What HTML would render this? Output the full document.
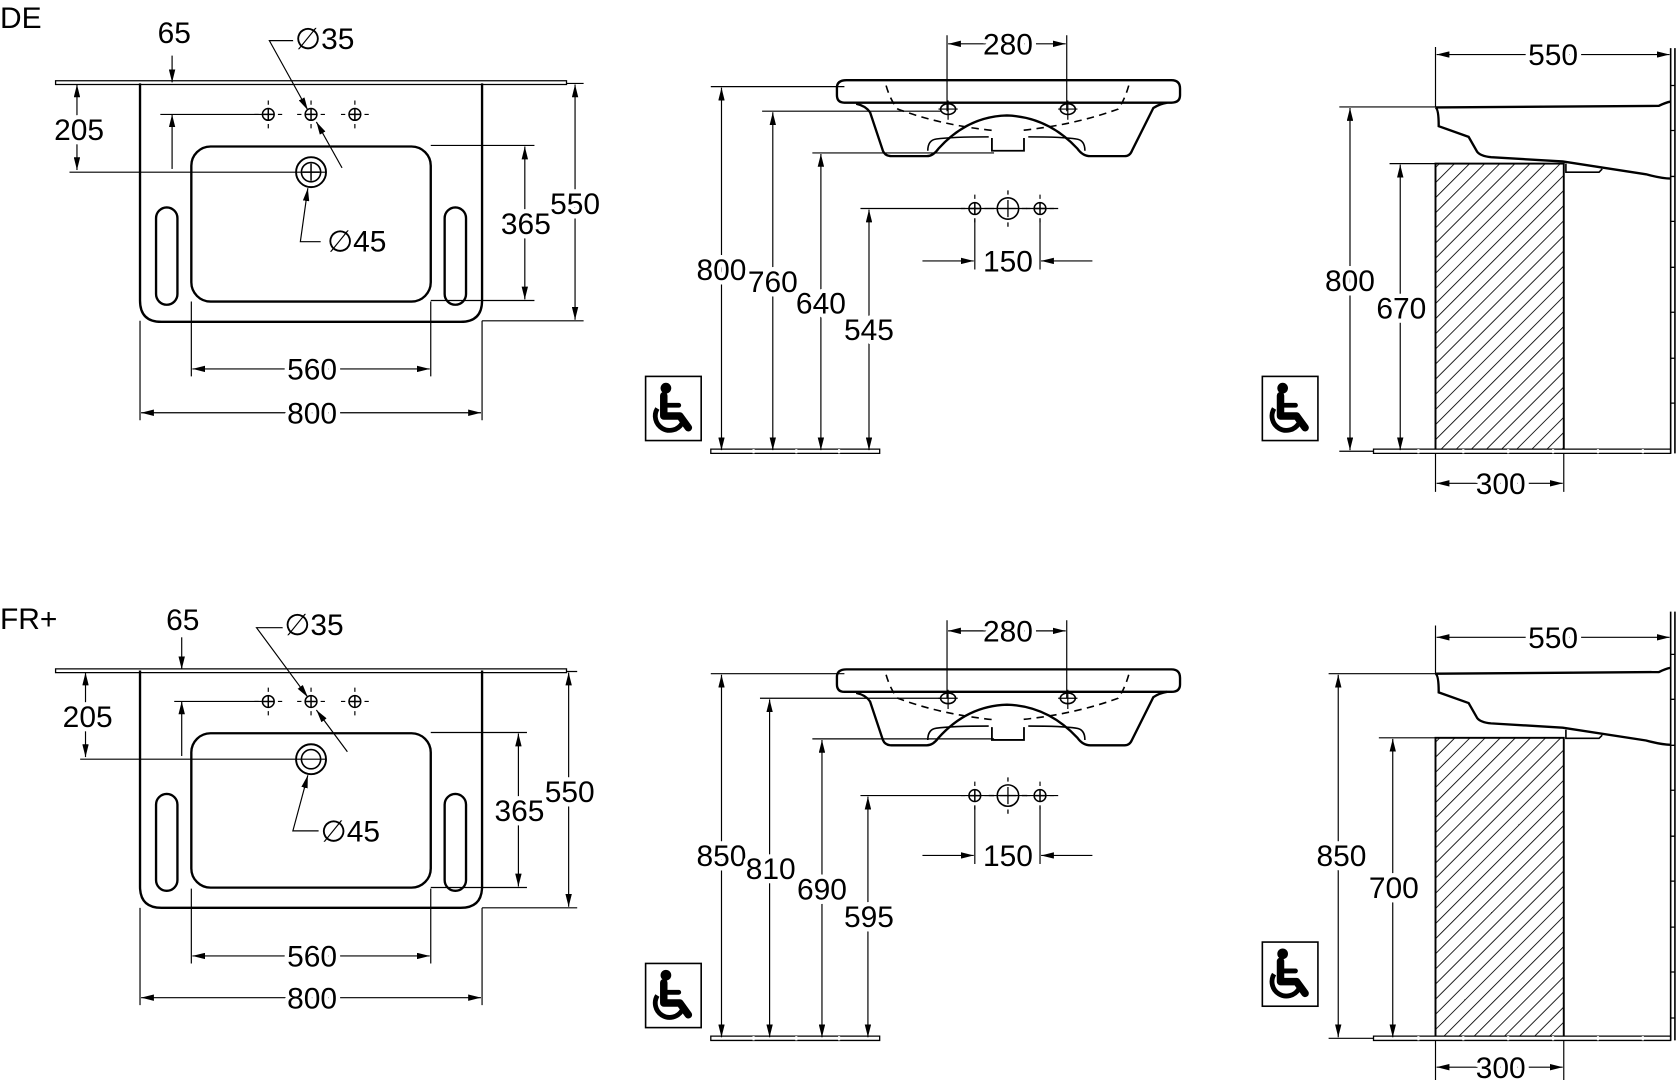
<!DOCTYPE html>
<html><head><meta charset="utf-8"><style>
html,body{margin:0;padding:0;background:#fff;width:1676px;height:1080px;overflow:hidden}
svg{display:block}
text{font-family:"Liberation Sans","DejaVu Sans",sans-serif;font-size:28px;fill:#000;paint-order:stroke;stroke:#fff;stroke-width:8px;stroke-linejoin:round}
</style></head><body>
<svg width="1676" height="1080" viewBox="0 0 1568 1010" preserveAspectRatio="none" xmlns="http://www.w3.org/2000/svg">
<defs>
<marker id="a" viewBox="0 0 12 6" refX="12" refY="3" markerWidth="12" markerHeight="6" markerUnits="userSpaceOnUse" orient="auto-start-reverse"><path d="M0,0L12,3L0,6z" fill="#000"/></marker>
<pattern id="h" width="10" height="10" patternUnits="userSpaceOnUse" patternTransform="rotate(45)"><line x1="0" y1="0" x2="0" y2="10" stroke="#000" stroke-width="1.6"/></pattern>
<g id="wc">
<rect x="0" y="0" width="52" height="60" fill="#fff" stroke="#000" stroke-width="1.5"/>
<circle cx="19" cy="11" r="5" fill="#000"/>
<path d="M17,18 L17,37 L32,37 L40,48" fill="none" stroke="#000" stroke-width="7" stroke-linecap="round" stroke-linejoin="round"/>
<path d="M19,27 L31,27" stroke="#000" stroke-width="4.5" stroke-linecap="round"/>
<path d="M11,30 A13,13 0 1 0 34,44" fill="none" stroke="#000" stroke-width="4.5"/>
</g>
<g id="top" fill="none" stroke="#000">
<path d="M131,0 V203 Q131,223 151,223 H431 Q451,223 451,203 V0" stroke-width="2.2"/>
<rect x="179" y="59" width="224" height="145" rx="18" stroke-width="2.2"/>
<rect x="146" y="116" width="20" height="91" rx="10" stroke-width="2.2"/>
<rect x="416" y="116" width="20" height="91" rx="10" stroke-width="2.2"/>
</g>
<g id="hole" fill="none" stroke="#000" stroke-width="1.4">
<circle r="5.5"/><path d="M-5.5,0H5.5M0,-5.5V5.5"/>
<path d="M-13,0h4M9,0h4M0,-13v4M0,9v4" stroke-width="1.1"/>
</g>
<g id="side" fill="none" stroke="#000" stroke-width="2.2">
<path d="M792,626 H1096 Q1104,626 1104,634 V640 Q1104,647 1096,647 H790 Q783,647 783,640 V633 Q783,626 792,626 Z"/>
<path d="M801,648 Q810,650 814,656 L826,692 Q828,697 834,697 H867 Q873,697 878,690 Q905,660 942,659 Q980,660 1008,690 Q1013,697 1020,697 H1052 Q1057,697 1059,692 L1079,652 Q1085,648 1092,647"/>
<path d="M868,692 Q868,682 876,681 Q890,679 925,679 M1015,692 Q1015,682 1007,681 Q995,679 962,679" stroke-width="1.5"/>
<path d="M928,680 V692 H958 V680" stroke-width="1.7"/>
<path d="M829,631 Q833,645 840,653 Q880,668 929,673 M1056,631 Q1052,645 1046,653 Q1005,668 955,673" stroke-dasharray="7,5" stroke-width="1.5"/>
<ellipse cx="887" cy="653" rx="7" ry="5" stroke-width="1.5"/><path d="M878,653h18M887,645v18" stroke-width="1.1"/>
<ellipse cx="999" cy="653" rx="7" ry="5" stroke-width="1.5"/><path d="M990,653h18M999,645v18" stroke-width="1.1"/>
</g>
<g id="prof" fill="none" stroke="#000" stroke-width="2.2">
<path d="M1343,100.5 Q1346,102 1346,118 L1374,128 L1382,142 Q1385,146 1395,147 L1462,151 L1540,163 Q1555,167 1563,167"/>
<path d="M1343,100.5 L1552,99 Q1558,96 1563,95"/>
<path d="M1465,153 V161 H1496 L1499,158" stroke-width="1.5"/>
</g>
</defs>

<!-- TOP ROW -->
<text x="0" y="26" style="font-size:28px">DE</text>
<path d="M52,75.5h478v3.5h-478z" fill="#fff" stroke="#000" stroke-width="1.2"/>
<use href="#top" transform="translate(0,78)"/>
<use href="#hole" x="251" y="107"/><use href="#hole" x="291" y="107"/><use href="#hole" x="332" y="107"/>
<circle cx="291" cy="161" r="14" fill="none" stroke="#000" stroke-width="1.8"/>
<circle cx="291" cy="161" r="9" fill="none" stroke="#000" stroke-width="1.5"/>
<path d="M283,161h16M291,153v16" stroke="#000" stroke-width="1.4"/>
<g stroke="#000" stroke-width="1.1" fill="none">
<path d="M150,107H245M65,161H305M403,136H500M403,281H500M451,300H546M179,282V352M403,282V352M131,300V393M451,300V393M530,78H546"/>
<path d="M161,52V77" marker-end="url(#a)"/><path d="M161,158V107" marker-end="url(#a)"/>
<path d="M72,79V159" marker-start="url(#a)" marker-end="url(#a)"/>
<path d="M491,137V280" marker-start="url(#a)" marker-end="url(#a)"/>
<path d="M538,79V299" marker-start="url(#a)" marker-end="url(#a)"/>
<path d="M180,345H402" marker-start="url(#a)" marker-end="url(#a)"/>
<path d="M132,386H450" marker-start="url(#a)" marker-end="url(#a)"/>
<path d="M276,38H252L288,103" marker-end="url(#a)"/><path d="M320,157L296,114" marker-end="url(#a)"/>
<path d="M300,226H281L288,176" marker-end="url(#a)"/>
</g>
<text x="163" y="40" text-anchor="middle">65</text>
<text x="74" y="131" text-anchor="middle">205</text>
<text x="492" y="219" text-anchor="middle">365</text>
<text x="538" y="200" text-anchor="middle">550</text>
<text x="292" y="355" text-anchor="middle">560</text>
<text x="292" y="396" text-anchor="middle">800</text>
<text x="276" y="46">∅35</text>
<text x="306" y="235">∅45</text>
<use href="#side" transform="translate(0,-551)"/>
<path d="M665,420h158v4h-158z" fill="#fff" stroke="#000" stroke-width="1.2"/>
<path d="M705,420v4M745,420v4M785,420v4" stroke="#fff" stroke-width="2"/>
<use href="#hole" x="912" y="195"/><use href="#hole" x="973" y="195"/>
<circle cx="943" cy="195" r="10" fill="none" stroke="#000" stroke-width="1.5"/><path d="M935,195h16M943,187v16M925,195h5M956,195h5M943,178v4M943,208v4" stroke="#000" stroke-width="1.2"/>
<g stroke="#000" stroke-width="1.1" fill="none">
<path d="M665,81H790M713,104H880M760,143H930M805,195H990M886,33V104M998,33V104M912,205V252M973,205V252"/>
<path d="M675,82V421" marker-start="url(#a)" marker-end="url(#a)"/>
<path d="M723,105V421" marker-start="url(#a)" marker-end="url(#a)"/>
<path d="M768,144V421" marker-start="url(#a)" marker-end="url(#a)"/>
<path d="M813,196V421" marker-start="url(#a)" marker-end="url(#a)"/>
<path d="M887,41H997" marker-start="url(#a)" marker-end="url(#a)"/>
<path d="M863,244H911" marker-end="url(#a)"/><path d="M1022,244H974" marker-end="url(#a)"/>
</g>
<text x="943" y="51" text-anchor="middle">280</text>
<text x="943" y="254" text-anchor="middle">150</text>
<text x="675" y="262" text-anchor="middle">800</text>
<text x="723" y="273" text-anchor="middle">760</text>
<text x="768" y="293" text-anchor="middle">640</text>
<text x="813" y="318" text-anchor="middle">545</text>
<use href="#wc" x="604" y="352"/>
<rect x="1343" y="153" width="120" height="269" fill="url(#h)" stroke="#000" stroke-width="1.8"/>
<use href="#prof"/>
<path d="M1285,420h278v4h-278z" fill="#fff" stroke="#000" stroke-width="1.2"/>
<path d="M1327,420v4M1369,420v4M1411,420v4M1453,420v4M1495,420v4M1537,420v4" stroke="#fff" stroke-width="2"/>
<path d="M1563,45V424M1567,45V424" stroke="#000" stroke-width="1.5"/>
<path d="M1563,80h4M1563,122h4M1563,165h4M1563,207h4M1563,250h4M1563,292h4M1563,335h4M1563,377h4" stroke="#000" stroke-width="1.2"/>
<g stroke="#000" stroke-width="1.1" fill="none">
<path d="M1253,100H1343M1300,153H1343M1253,422H1285M1343,44V100M1343,424V460M1463,424V460"/>
<path d="M1344,51H1562" marker-start="url(#a)" marker-end="url(#a)"/>
<path d="M1263,101V421" marker-start="url(#a)" marker-end="url(#a)"/>
<path d="M1310,154V421" marker-start="url(#a)" marker-end="url(#a)"/>
<path d="M1344,452H1462" marker-start="url(#a)" marker-end="url(#a)"/>
</g>
<text x="1453" y="61" text-anchor="middle">550</text>
<text x="1263" y="272" text-anchor="middle">800</text>
<text x="1311" y="298" text-anchor="middle">670</text>
<text x="1404" y="462" text-anchor="middle">300</text>
<use href="#wc" x="1181" y="352"/>

<!-- BOTTOM ROW -->
<text x="0" y="588" style="font-size:28px">FR+</text>
<path d="M52,625.5h478v3.5h-478z" fill="#fff" stroke="#000" stroke-width="1.2"/>
<use href="#top" transform="translate(0,627) scale(1,0.9955)"/>
<use href="#hole" x="251" y="656"/><use href="#hole" x="291" y="656"/><use href="#hole" x="332" y="656"/>
<circle cx="291" cy="710" r="14" fill="none" stroke="#000" stroke-width="1.8"/>
<circle cx="291" cy="710" r="9" fill="none" stroke="#000" stroke-width="1.5"/>
<g stroke="#000" stroke-width="1.1" fill="none">
<path d="M163,656H245M75,710H305M403,685H493M403,830H493M451,849H540M179,831V901M403,831V901M131,849V940M451,849V940M530,628H540"/>
<path d="M170,596V626" marker-end="url(#a)"/><path d="M170,707V656" marker-end="url(#a)"/>
<path d="M80,629V708" marker-start="url(#a)" marker-end="url(#a)"/>
<path d="M485,686V829" marker-start="url(#a)" marker-end="url(#a)"/>
<path d="M532,629V848" marker-start="url(#a)" marker-end="url(#a)"/>
<path d="M180,894H402" marker-start="url(#a)" marker-end="url(#a)"/>
<path d="M132,933H450" marker-start="url(#a)" marker-end="url(#a)"/>
<path d="M265,587H240L288,652" marker-end="url(#a)"/><path d="M325,703L296,664" marker-end="url(#a)"/>
<path d="M300,777H274L288,725" marker-end="url(#a)"/>
</g>
<text x="171" y="589" text-anchor="middle">65</text>
<text x="82" y="680" text-anchor="middle">205</text>
<text x="486" y="768" text-anchor="middle">365</text>
<text x="533" y="750" text-anchor="middle">550</text>
<text x="292" y="904" text-anchor="middle">560</text>
<text x="292" y="943" text-anchor="middle">800</text>
<text x="266" y="594">∅35</text>
<text x="300" y="787">∅45</text>
<use href="#side"/>
<path d="M665,969h158v4h-158z" fill="#fff" stroke="#000" stroke-width="1.2"/>
<path d="M705,969v4M745,969v4M785,969v4" stroke="#fff" stroke-width="2"/>
<use href="#hole" x="912" y="744"/><use href="#hole" x="973" y="744"/>
<circle cx="943" cy="744" r="10" fill="none" stroke="#000" stroke-width="1.5"/><path d="M935,744h16M943,736v16M925,744h5M956,744h5M943,727v4M943,757v4" stroke="#000" stroke-width="1.2"/>
<g stroke="#000" stroke-width="1.1" fill="none">
<path d="M665,630H790M711,653H880M760,691H930M805,744H990M886,580V653M998,580V653M912,754V808M973,754V808"/>
<path d="M675,631V970" marker-start="url(#a)" marker-end="url(#a)"/>
<path d="M720,654V970" marker-start="url(#a)" marker-end="url(#a)"/>
<path d="M769,692V970" marker-start="url(#a)" marker-end="url(#a)"/>
<path d="M812,745V970" marker-start="url(#a)" marker-end="url(#a)"/>
<path d="M887,590H997" marker-start="url(#a)" marker-end="url(#a)"/>
<path d="M863,800H911" marker-end="url(#a)"/><path d="M1022,800H974" marker-end="url(#a)"/>
</g>
<text x="943" y="600" text-anchor="middle">280</text>
<text x="943" y="810" text-anchor="middle">150</text>
<text x="675" y="810" text-anchor="middle">850</text>
<text x="721" y="822" text-anchor="middle">810</text>
<text x="769" y="841" text-anchor="middle">690</text>
<text x="813" y="867" text-anchor="middle">595</text>
<use href="#wc" x="604" y="901"/>
<rect x="1343" y="690" width="120" height="281" fill="url(#h)" stroke="#000" stroke-width="1.8"/>
<use href="#prof" transform="translate(0,529.5)"/>
<path d="M1285,969h278v4h-278z" fill="#fff" stroke="#000" stroke-width="1.2"/>
<path d="M1327,969v4M1369,969v4M1411,969v4M1453,969v4M1495,969v4M1537,969v4" stroke="#fff" stroke-width="2"/>
<path d="M1563,572V973M1567,572V973" stroke="#000" stroke-width="1.5"/>
<path d="M1563,612h4M1563,654h4M1563,697h4M1563,739h4M1563,782h4M1563,824h4M1563,867h4M1563,909h4M1563,952h4" stroke="#000" stroke-width="1.2"/>
<g stroke="#000" stroke-width="1.1" fill="none">
<path d="M1243,630H1343M1290,690H1343M1243,971H1285M1343,585V630M1343,973V1010M1463,973V1010"/>
<path d="M1344,596H1562" marker-start="url(#a)" marker-end="url(#a)"/>
<path d="M1252,631V970" marker-start="url(#a)" marker-end="url(#a)"/>
<path d="M1303,691V970" marker-start="url(#a)" marker-end="url(#a)"/>
<path d="M1344,998H1462" marker-start="url(#a)" marker-end="url(#a)"/>
</g>
<text x="1453" y="606" text-anchor="middle">550</text>
<text x="1255" y="810" text-anchor="middle">850</text>
<text x="1304" y="840" text-anchor="middle">700</text>
<text x="1404" y="1008" text-anchor="middle">300</text>
<use href="#wc" x="1181" y="881"/>
</svg>
</body></html>
